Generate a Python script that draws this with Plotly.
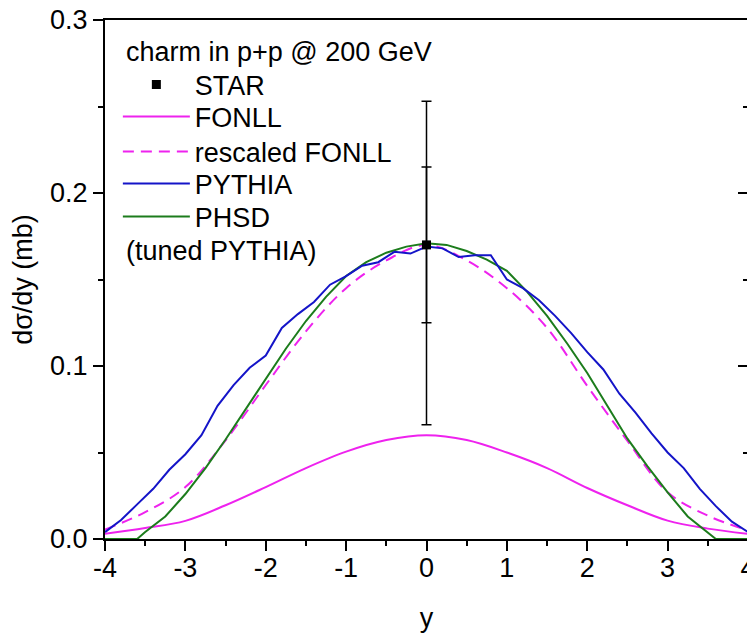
import plotly.graph_objects as go

# ---------------- data ----------------
# FONLL (solid) and rescaled FONLL (dashed), rapidity grid step 0.5
fonll_y = [-4.0, -3.5, -3.0, -2.5, -2.0, -1.5, -1.0, -0.5, 0.0,
           0.5, 1.0, 1.5, 2.0, 2.5, 3.0, 3.5, 4.0]
fonll = [0.0030, 0.0063, 0.0105, 0.0195, 0.0300, 0.0410, 0.0505, 0.0572, 0.0600,
         0.0572, 0.0500, 0.0410, 0.0295, 0.0195, 0.0106, 0.0060, 0.0030]
fonll_rescaled = [0.0055, 0.0155, 0.0300, 0.0570, 0.0890, 0.1200, 0.1450, 0.1610, 0.1700,
                  0.1610, 0.1450, 0.1220, 0.0885, 0.0567, 0.0270, 0.0135, 0.0050]

# PYTHIA, step 0.2
pythia_y = [-4.0, -3.8, -3.6, -3.4, -3.2, -3.0, -2.8, -2.6, -2.4, -2.2, -2.0,
            -1.8, -1.6, -1.4, -1.2, -1.0, -0.8, -0.6, -0.4, -0.2, 0.0,
            0.2, 0.4, 0.6, 0.8, 1.0, 1.2, 1.4, 1.6, 1.8, 2.0,
            2.2, 2.4, 2.6, 2.8, 3.0, 3.2, 3.4, 3.6, 3.8, 4.0]
pythia = [0.004, 0.011, 0.020, 0.029, 0.040, 0.049, 0.060, 0.077, 0.089, 0.099, 0.106,
          0.122, 0.130, 0.137, 0.147, 0.152, 0.158, 0.160, 0.166, 0.165, 0.169,
          0.168, 0.163, 0.164, 0.164, 0.150, 0.145, 0.138, 0.129, 0.119, 0.108,
          0.098, 0.084, 0.073, 0.061, 0.050, 0.041, 0.029, 0.019, 0.010, 0.004]

# PHSD (tuned PYTHIA), step 0.25
phsd_y = [-4.0, -3.75, -3.6, -3.5, -3.25, -3.0, -2.75, -2.5, -2.25, -2.0, -1.75,
          -1.5, -1.25, -1.0, -0.75, -0.5, -0.25, 0.0, 0.25, 0.5, 0.75, 1.0,
          1.25, 1.5, 1.75, 2.0, 2.25, 2.5, 2.75, 3.0, 3.25, 3.5, 3.6, 3.75, 4.0]
phsd = [0.0, 0.0, 0.0, 0.004, 0.013, 0.026, 0.041, 0.0575, 0.075, 0.093, 0.110,
        0.126, 0.140, 0.152, 0.160, 0.1655, 0.169, 0.171, 0.170, 0.1665, 0.1615, 0.155,
        0.143, 0.129, 0.113, 0.096, 0.077, 0.058, 0.042, 0.027, 0.013, 0.0035, 0.0, 0.0, 0.0]

# STAR point
star_y = [0.0]
star_val = [0.170]
star_stat = [0.045]
star_tot_up = [0.083]
star_tot_down = [0.104]

# tick labels
x_tickvals = [-4, -3, -2, -1, 0, 1, 2, 3, 4]
x_ticktext = ["-4", "-3", "-2", "-1", "0", "1", "2", "3", "4"]
y_tickvals = [0.0, 0.1, 0.2, 0.3]
y_ticktext = ["0.0", "0.1", "0.2", "0.3"]

FONT = "Arial, 'Liberation Sans', sans-serif"
FS = 27
MAGENTA = "#ee22ee"
BLUE = "#1414c8"
GREEN = "#1c7c1c"

fig = go.Figure()

# error bars (not in legend)
fig.add_trace(go.Scatter(
    x=star_y, y=star_val, mode="markers", showlegend=False, hoverinfo="skip",
    marker=dict(size=1, color="rgba(0,0,0,0)"),
    error_y=dict(type="data", symmetric=False, array=star_tot_up, arrayminus=star_tot_down,
                 color="black", thickness=1.5, width=5)))
fig.add_trace(go.Scatter(
    x=star_y, y=star_val, mode="markers", showlegend=False, hoverinfo="skip",
    marker=dict(size=1, color="rgba(0,0,0,0)"),
    error_y=dict(type="data", array=star_stat, color="black", thickness=1.5, width=5)))

fig.add_trace(go.Scatter(x=fonll_y, y=fonll, mode="lines", name="FONLL", legend="legend2",
                         line=dict(color=MAGENTA, width=2, shape="spline")))
fig.add_trace(go.Scatter(x=fonll_y, y=fonll_rescaled, mode="lines", name="rescaled FONLL",
                         legend="legend3",
                         line=dict(color=MAGENTA, width=2, dash="11px,7px", shape="spline")))
fig.add_trace(go.Scatter(x=phsd_y, y=phsd, mode="lines", name="PHSD", legend="legend5",
                         line=dict(color=GREEN, width=2)))
fig.add_trace(go.Scatter(x=pythia_y, y=pythia, mode="lines", name="PYTHIA", legend="legend4",
                         line=dict(color=BLUE, width=2)))
fig.add_trace(go.Scatter(x=star_y, y=star_val, mode="markers", name="STAR", legend="legend",
                         marker=dict(symbol="square", size=9, color="black")))

# right axis with inward ticks
fig.add_trace(go.Scatter(x=[], y=[], yaxis="y2", showlegend=False, hoverinfo="skip"))


def leg(ypos):
    return dict(x=0.020, y=ypos, xanchor="left", yanchor="middle",
                bgcolor="rgba(0,0,0,0)", borderwidth=0,
                font=dict(family=FONT, size=FS, color="black"),
                itemwidth=67, tracegroupgap=0)


fig.update_layout(
    width=747, height=629,
    margin=dict(l=97, r=7, t=12, b=98, autoexpand=False),
    paper_bgcolor="white", plot_bgcolor="white",
    font=dict(family=FONT, size=FS, color="black"),
    showlegend=True,
    legend=leg(0.8748),
    legend2=leg(0.8131),
    legend3=leg(0.7457),
    legend4=leg(0.6840),
    legend5=leg(0.6204),
    xaxis=dict(
        range=[-4, 4], tickvals=x_tickvals, ticktext=x_ticktext, automargin=False,
        ticks="outside", ticklen=10, tickwidth=2, ticklabelstandoff=-6,
        ticklabeloverflow="allow",
        tickcolor="black", showline=True, linewidth=2, linecolor="black", mirror=True,
        showgrid=False, zeroline=False,
        minor=dict(dtick=0.5, tick0=0, ticks="outside", ticklen=5, tickwidth=2,
                   tickcolor="black", showgrid=False),
        title=dict(text="y", font=dict(family=FONT, size=FS), standoff=26),
        tickfont=dict(family=FONT, size=FS),
    ),
    yaxis=dict(
        range=[0, 0.3], tickvals=y_tickvals, ticktext=y_ticktext, automargin=False,
        ticks="outside", ticklen=10, ticklabeloverflow="allow",
        tickwidth=2, tickcolor="black", showline=True, linewidth=2, linecolor="black",
        mirror=True, showgrid=False, zeroline=False,
        minor=dict(dtick=0.05, tick0=0, ticks="outside", ticklen=5, tickwidth=2,
                   tickcolor="black", showgrid=False),
        title=dict(text="dσ/dy (mb)", font=dict(family=FONT, size=FS), standoff=12),
        tickfont=dict(family=FONT, size=FS),
    ),
    yaxis2=dict(
        overlaying="y", side="right", range=[0, 0.3], dtick=0.1, tick0=0,
        automargin=False,
        ticks="inside", ticklen=10, tickwidth=2, tickcolor="black",
        showticklabels=False, showline=False, showgrid=False, zeroline=False,
        minor=dict(dtick=0.05, tick0=0, ticks="inside", ticklen=5, tickwidth=2,
                   tickcolor="black", showgrid=False),
    ),
    annotations=[
        dict(text="charm in p+p @ 200 GeV", xref="paper", yref="paper",
             x=0.029, y=0.938, xanchor="left", yanchor="middle", showarrow=False,
             font=dict(family=FONT, size=FS, color="black")),
        dict(text="(tuned PYTHIA)", xref="paper", yref="paper",
             x=0.029, y=0.555, xanchor="left", yanchor="middle", showarrow=False,
             font=dict(family=FONT, size=FS, color="black")),
    ],
)

fig.write_html("out.html")
